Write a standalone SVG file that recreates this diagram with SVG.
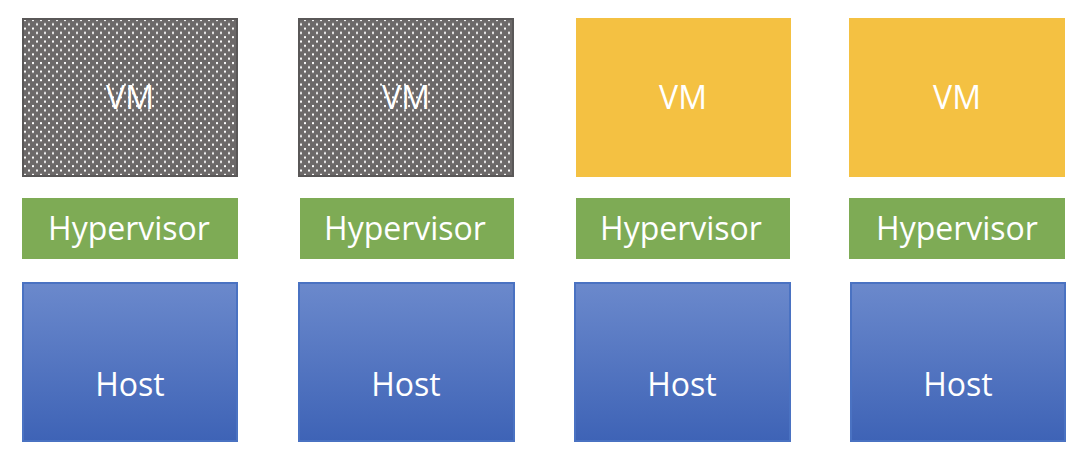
<svg xmlns="http://www.w3.org/2000/svg" width="1084" height="460" viewBox="0 0 1084 460">
<style>
.lbl{font-family:"Open Sans","Liberation Sans",sans-serif;font-size:32px;fill:#ffffff;text-anchor:middle}
.vmg{fill:url(#dots);stroke:#5a5858;stroke-width:2}
.vmy{fill:#f4c142}
.hyp{fill:#7eab55}
.host{fill:url(#blue);stroke:#4a72c2;stroke-width:2}
</style>
<defs>
<pattern id="dots" width="8" height="8.6" patternUnits="userSpaceOnUse" x="22" y="18">
<rect width="8" height="8.6" fill="#6c6969"/>
<rect x="2" y="1" width="2" height="2" fill="#ffffff"/>
<rect x="6" y="5.3" width="2" height="2" fill="#ffffff"/>
</pattern>
<linearGradient id="blue" x1="0" y1="0" x2="0" y2="1">
<stop offset="0" stop-color="#6b89cc"/>
<stop offset="1" stop-color="#3e63b6"/>
</linearGradient>
</defs>
<g id="vm1"><rect class="vmg" x="23" y="19" width="214" height="157"/><text class="lbl" x="130" y="109">VM</text></g>
<g id="vm2"><rect class="vmg" x="299" y="19" width="214" height="157"/><text class="lbl" x="406" y="109">VM</text></g>
<g id="vm3"><rect class="vmy" x="576" y="18" width="215" height="159"/><text class="lbl" x="683" y="109">VM</text></g>
<g id="vm4"><rect class="vmy" x="849" y="18" width="216" height="159"/><text class="lbl" x="957" y="109">VM</text></g>
<g id="hyp1"><rect class="hyp" x="22" y="198" width="216" height="61"/><text class="lbl" x="129" y="240">Hypervisor</text></g>
<g id="hyp2"><rect class="hyp" x="300" y="198" width="214" height="61"/><text class="lbl" x="405" y="240">Hypervisor</text></g>
<g id="hyp3"><rect class="hyp" x="576" y="198" width="214" height="61"/><text class="lbl" x="681" y="240">Hypervisor</text></g>
<g id="hyp4"><rect class="hyp" x="849" y="198" width="216" height="61"/><text class="lbl" x="957" y="240">Hypervisor</text></g>
<g id="host1"><rect class="host" x="23" y="283" width="214" height="158"/><text class="lbl" x="130" y="396">Host</text></g>
<g id="host2"><rect class="host" x="299" y="283" width="215" height="158"/><text class="lbl" x="406" y="396">Host</text></g>
<g id="host3"><rect class="host" x="575" y="283" width="215" height="158"/><text class="lbl" x="682" y="396">Host</text></g>
<g id="host4"><rect class="host" x="851" y="283" width="214" height="158"/><text class="lbl" x="958" y="396">Host</text></g>
<g id="connectors"/>
</svg>
